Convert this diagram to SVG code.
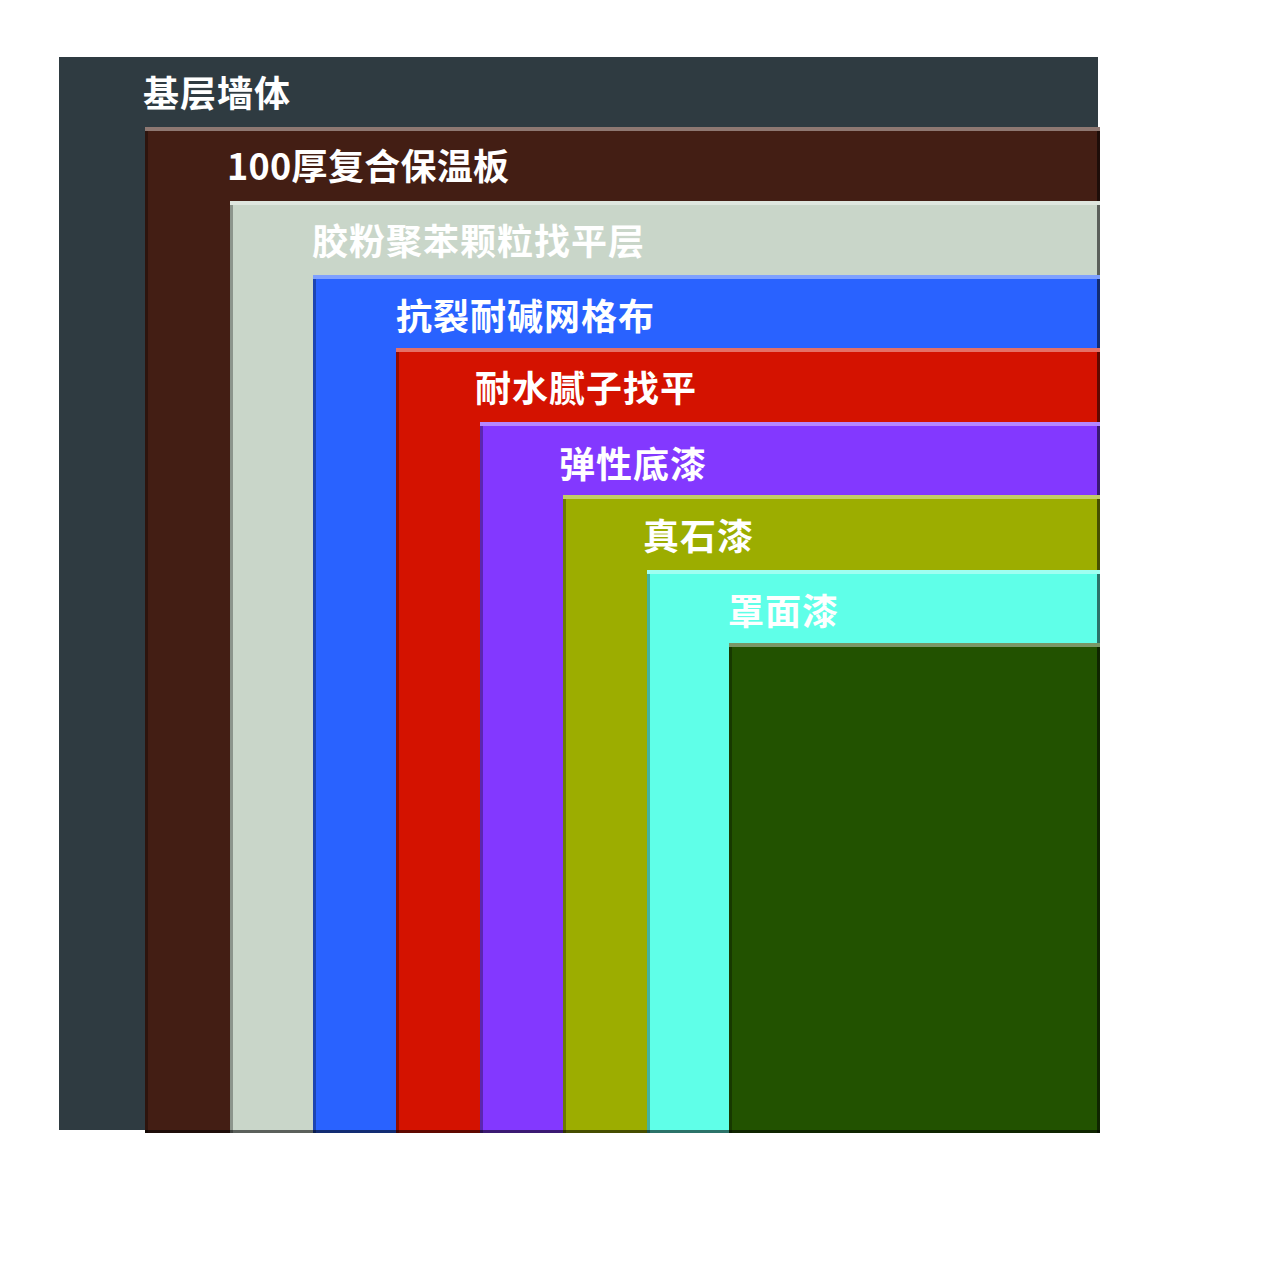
<svg xmlns="http://www.w3.org/2000/svg" width="1280" height="1280" viewBox="0 0 1280 1280">
<style>
.lbl{font-family:"Noto Sans CJK SC","Noto Sans",sans-serif;font-weight:bold;font-size:36px;letter-spacing:1px;fill:#ffffff}
.hi{fill:#ffffff;opacity:0.4}
.sh{fill:#000000;opacity:0.55}
.shl{fill:#000000;opacity:0.3}
</style>
<rect width="1280" height="1280" fill="#ffffff"/>
<g id="layer0">
<rect x="59" y="57" width="1039" height="1073" fill="#2f3b41"/>
<text class="lbl" x="143" y="107">基层墙体</text>
</g>
<g id="layer1">
<rect x="145" y="127" width="955" height="1006" fill="#431e14"/>
<rect class="hi" x="145" y="127" width="955" height="4"/>
<rect class="shl" x="145" y="131" width="3" height="1002"/>
<rect class="sh" x="1097" y="131" width="3" height="1002"/>
<rect class="sh" x="145" y="1130" width="955" height="3"/>
<text class="lbl" x="227" y="180" style="letter-spacing:0.3px">100厚复合保温板</text>
</g>
<g id="layer2">
<rect x="230" y="201" width="870" height="932" fill="#c9d6c9"/>
<rect class="hi" x="230" y="201" width="870" height="4"/>
<rect class="shl" x="230" y="205" width="3" height="928"/>
<rect class="sh" x="1097" y="205" width="3" height="928"/>
<rect class="sh" x="230" y="1130" width="870" height="3"/>
<text class="lbl" x="312" y="255">胶粉聚苯颗粒找平层</text>
</g>
<g id="layer3">
<rect x="313" y="275" width="787" height="858" fill="#2962ff"/>
<rect class="hi" x="313" y="275" width="787" height="4"/>
<rect class="shl" x="313" y="279" width="3" height="854"/>
<rect class="sh" x="1097" y="279" width="3" height="854"/>
<rect class="sh" x="313" y="1130" width="787" height="3"/>
<text class="lbl" x="396" y="330">抗裂耐碱网格布</text>
</g>
<g id="layer4">
<rect x="396" y="348" width="704" height="785" fill="#d41200"/>
<rect class="hi" x="396" y="348" width="704" height="4"/>
<rect class="shl" x="396" y="352" width="3" height="781"/>
<rect class="sh" x="1097" y="352" width="3" height="781"/>
<rect class="sh" x="396" y="1130" width="704" height="3"/>
<text class="lbl" x="475" y="402">耐水腻子找平</text>
</g>
<g id="layer5">
<rect x="480" y="422" width="620" height="711" fill="#8338ff"/>
<rect class="hi" x="480" y="422" width="620" height="4"/>
<rect class="shl" x="480" y="426" width="3" height="707"/>
<rect class="sh" x="1097" y="426" width="3" height="707"/>
<rect class="sh" x="480" y="1130" width="620" height="3"/>
<text class="lbl" x="559" y="478">弹性底漆</text>
</g>
<g id="layer6">
<rect x="563" y="495" width="537" height="638" fill="#9cad00"/>
<rect class="hi" x="563" y="495" width="537" height="4"/>
<rect class="shl" x="563" y="499" width="3" height="634"/>
<rect class="sh" x="1097" y="499" width="3" height="634"/>
<rect class="sh" x="563" y="1130" width="537" height="3"/>
<text class="lbl" x="643" y="550">真石漆</text>
</g>
<g id="layer7">
<rect x="647" y="570" width="453" height="563" fill="#5fffe8"/>
<rect class="hi" x="647" y="570" width="453" height="4"/>
<rect class="shl" x="647" y="574" width="3" height="559"/>
<rect class="sh" x="1097" y="574" width="3" height="559"/>
<rect class="sh" x="647" y="1130" width="453" height="3"/>
<text class="lbl" x="728" y="625">罩面漆</text>
</g>
<g id="layer8">
<rect x="729" y="643" width="371" height="490" fill="#225200"/>
<rect class="hi" x="729" y="643" width="371" height="4"/>
<rect class="shl" x="729" y="647" width="3" height="486"/>
<rect class="sh" x="1097" y="647" width="3" height="486"/>
<rect class="sh" x="729" y="1130" width="371" height="3"/>
</g>
<g id="connectors"></g>
</svg>
